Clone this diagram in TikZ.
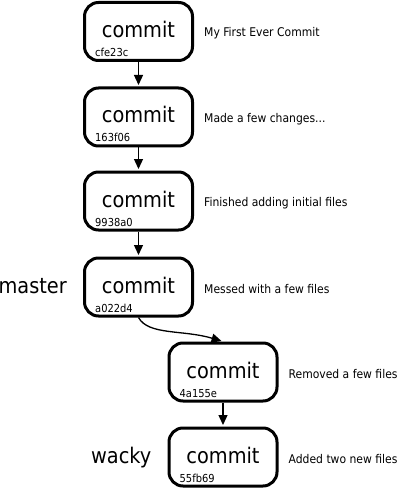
\documentclass[tikz,border=0pt]{standalone}
\usepackage{fontspec}
\setmainfont{DejaVu Sans Condensed}
\usetikzlibrary{arrows.meta,calc}
\tikzset{
  box/.style={draw, line width=3pt, rounded corners=14pt, minimum width=108pt, minimum height=58pt, inner sep=0pt},
  big/.style={font=\fontsize{21.5}{24}\selectfont, inner sep=0pt},
  hash/.style={font=\fontsize{11}{13}\selectfont, inner sep=0pt, anchor=base west},
  msg/.style={font=\fontsize{12}{14}\selectfont, inner sep=0pt, anchor=west},
  link/.style={line width=1.3pt, -{Triangle[length=10pt,width=9pt]}, shorten >=1.5pt},
}
\begin{document}
\begin{tikzpicture}[x=1pt,y=-1pt]
\useasboundingbox (0,0) rectangle (400,489);
% boxes
\node[box] (c1) at (138.5,31.5) {};
\node[box] (c2) at (138.5,117) {};
\node[box] (c3) at (138.5,201) {};
\node[box] (c4) at (138.5,287) {};
\node[box] (c5) at (223,372) {};
\node[box] (c6) at (223,457) {};
% commit words
\foreach \c in {c1,c2,c3,c4,c5,c6}{
  \node[big, anchor=base] (w\c) at ($(\c.center)+(0,6)$) {commit};
}
% hashes
\node[hash] (h1) at ($(c1.center)+(-43.5,25)$) {cfe23c};
\node[hash] (h2) at ($(c2.center)+(-43.5,25)$) {163f06};
\node[hash] (h3) at ($(c3.center)+(-43.5,25)$) {9938a0};
\node[hash] (h4) at ($(c4.center)+(-43.5,25)$) {a022d4};
\node[hash] (h5) at ($(c5.center)+(-43.5,25)$) {4a155e};
\node[hash] (h6) at ($(c6.center)+(-43.5,25)$) {55fb69};
% messages
\node[msg] (m1) at ($(c1.east)+(10,2)$) {My First Ever Commit};
\node[msg] (m2) at ($(c2.east)+(10,2)$) {Made a few changes...};
\node[msg] (m3) at ($(c3.east)+(10,2)$) {Finished adding initial files};
\node[msg] (m4) at ($(c4.east)+(10,2)$) {Messed with a few files};
\node[msg] (m5) at ($(c5.east)+(10,2)$) {Removed a few files};
\node[msg] (m6) at ($(c6.east)+(10,2)$) {Added two new files};
% branch names
\node[big, anchor=base east] (master) at ($(c4.west)+(-16,6)$) {master};
\node[big, anchor=base east] (wacky) at ($(c6.west)+(-16,6)$) {wacky};
% connectors
\draw[link] (c1.south) -- (c2.north);
\draw[link] (c2.south) -- (c3.north);
\draw[link] (c3.south) -- (c4.north);
\draw[link] (c4.south) .. controls +(10,18) and +(-40,-12) .. (c5.north);
\draw[link] (c5.south) -- (c6.north);
\end{tikzpicture}
\end{document}
